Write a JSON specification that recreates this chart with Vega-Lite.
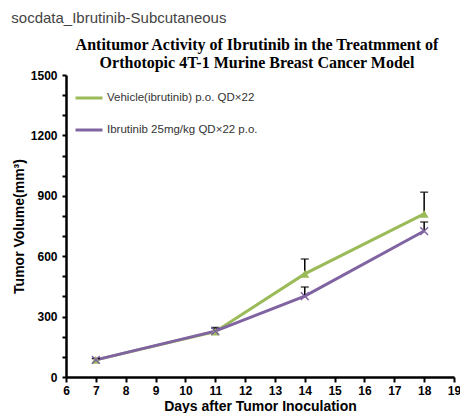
{
  "$schema": "https://vega.github.io/schema/vega-lite/v6.json",
  "padding": {"left": 11, "top": 11, "right": 0, "bottom": 0},
  "title": {"text": "socdata_Ibrutinib-Subcutaneous", "anchor": "start", "frame": "bounds", "dx": -1, "font": "Liberation Sans", "fontSize": 15, "fontWeight": "normal", "color": "#444444", "offset": 11},
  "config": {"view": {"stroke": null}, "concat": {"spacing": 0}},
  "data": {"values": [
    {"day": 7, "group": "Vehicle(ibrutinib) p.o. QD×22", "mean": 85, "upper": 92},
    {"day": 11, "group": "Vehicle(ibrutinib) p.o. QD×22", "mean": 225, "upper": 246},
    {"day": 14, "group": "Vehicle(ibrutinib) p.o. QD×22", "mean": 512, "upper": 586},
    {"day": 18, "group": "Vehicle(ibrutinib) p.o. QD×22", "mean": 810, "upper": 918},
    {"day": 7, "group": "Ibrutinib 25mg/kg QD×22 p.o.", "mean": 85, "upper": 92},
    {"day": 11, "group": "Ibrutinib 25mg/kg QD×22 p.o.", "mean": 228, "upper": 242},
    {"day": 14, "group": "Ibrutinib 25mg/kg QD×22 p.o.", "mean": 402, "upper": 447},
    {"day": 18, "group": "Ibrutinib 25mg/kg QD×22 p.o.", "mean": 725, "upper": 770}
  ]},
  "vconcat": [{
    "width": 388,
    "height": 302,
    "title": {"text": ["Antitumor Activity of Ibrutinib in the Treatmment of", "Orthotopic 4T-1 Murine Breast Cancer Model"], "anchor": "middle", "frame": "group", "dx": -3, "font": "Liberation Serif", "fontSize": 16, "fontWeight": "bold", "color": "#000000", "lineHeight": 18, "offset": -2},
    "encoding": {
      "x": {"field": "day", "type": "quantitative", "scale": {"domain": [6, 19], "nice": false},
        "axis": {"values": [6,7,8,9,10,11,12,13,14,15,16,17,18,19], "title": "Days after Tumor Inoculation", "grid": false, "domainColor": "#000", "domainWidth": 2.5, "tickColor": "#000", "tickWidth": 2, "tickSize": 5, "labelFont": "Liberation Sans", "labelFontWeight": "bold", "labelFontSize": 12, "labelColor": "#000", "titleFont": "Liberation Sans", "titleFontWeight": "bold", "titleFontSize": 14, "titleColor": "#000", "titlePadding": 3, "labelPadding": 3, "labelFlush": false}},
      "y": {"field": "mean", "type": "quantitative", "scale": {"domain": [0, 1500], "nice": false},
        "axis": {"values": [0,100,200,300,400,500,600,700,800,900,1000,1100,1200,1300,1400,1500], "labelExpr": "datum.value % 300 == 0 ? datum.label : ''", "format": "d", "title": "Tumor Volume(mm³)", "grid": false, "domainColor": "#000", "domainWidth": 2.5, "tickColor": "#000", "tickWidth": 2, "tickSize": 4, "labelFont": "Liberation Sans", "labelFontWeight": "bold", "labelFontSize": 12, "labelColor": "#000", "labelPadding": 5, "titleFont": "Liberation Sans", "titleFontWeight": "bold", "titleFontSize": 14, "titleColor": "#000", "titlePadding": 4}}
    },
    "layer": [
      {"mark": {"type": "line", "strokeWidth": 3},
       "encoding": {"color": {"field": "group", "type": "nominal",
         "scale": {"domain": ["Vehicle(ibrutinib) p.o. QD×22", "Ibrutinib 25mg/kg QD×22 p.o."], "range": ["#9BBB59", "#8064A2"]},
         "legend": {"title": null, "orient": "top-left", "offset": 8, "symbolType": "stroke", "symbolSize": 729, "symbolStrokeWidth": 3, "labelFont": "Liberation Sans", "labelFontSize": 11.5, "labelColor": "#333", "rowPadding": 11, "labelOffset": 3}}}},
      {"mark": {"type": "rule", "color": "#000", "strokeWidth": 1.5},
       "encoding": {"y2": {"field": "upper"}}},
      {"mark": {"type": "tick", "color": "#000", "thickness": 1.5, "size": 8, "orient": "horizontal"},
       "encoding": {"y": {"field": "upper", "type": "quantitative"}}},
      {"transform": [{"filter": "datum.group == 'Vehicle(ibrutinib) p.o. QD×22'"}],
       "mark": {"type": "point", "shape": "triangle-up", "filled": true, "color": "#9BBB59", "size": 80, "opacity": 1}},
      {"transform": [{"filter": "datum.group == 'Ibrutinib 25mg/kg QD×22 p.o.'"}],
       "mark": {"type": "point", "shape": "M-1,-1L1,1M-1,1L1,-1", "filled": false, "color": "#8064A2", "size": 60, "strokeWidth": 1.5, "opacity": 1}}
    ]
  }]
}
